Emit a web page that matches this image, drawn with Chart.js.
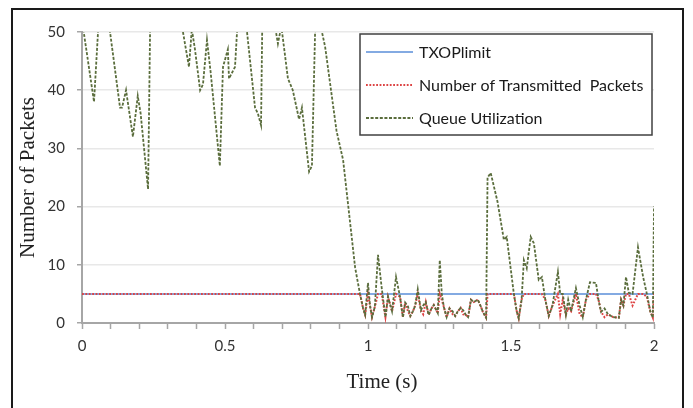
<!DOCTYPE html>
<html><head><meta charset="utf-8">
<script src="https://cdn.jsdelivr.net/npm/chart.js@4/dist/chart.umd.min.js"></script>
<style>
html,body{margin:0;padding:0;background:#fff;width:693px;height:408px;overflow:hidden}
#wrap{position:relative;width:693px;height:408px}
#frame{position:absolute;left:11px;top:8px;width:673px;height:430px;border:2px solid #1a1a1a;box-sizing:border-box}
#c{position:absolute;left:0;top:0}
</style></head>
<body><div id="wrap"><div id="frame"></div><canvas id="c" width="693" height="408"></canvas></div>
<script>
const times = [0, 0.042, 0.056, 0.075, 0.098, 0.133, 0.140, 0.154, 0.178, 0.195,
  0.205, 0.231, 0.238, 0.260, 0.300, 0.330, 0.353, 0.374, 0.384, 0.395,
  0.413, 0.423, 0.437, 0.450, 0.482, 0.493, 0.510, 0.514, 0.535, 0.542,
  0.560, 0.577, 0.605, 0.615, 0.626, 0.630, 0.650, 0.675, 0.685, 0.697,
  0.720, 0.737, 0.759, 0.769, 0.794, 0.804, 0.815, 0.828, 0.839, 0.850,
  0.890, 0.902, 0.913,
  0.955, 0.972, 0.983, 0.990, 1.000, 1.007, 1.014, 1.024, 1.035, 1.048,
  1.061, 1.070, 1.084, 1.098, 1.112, 1.122, 1.130, 1.140, 1.148, 1.157,
  1.165, 1.174, 1.185, 1.193, 1.202, 1.212, 1.222, 1.230, 1.244, 1.251,
  1.258, 1.265, 1.275, 1.285, 1.296, 1.305, 1.314, 1.324, 1.333, 1.342,
  1.350, 1.360, 1.370, 1.384, 1.393, 1.401, 1.413, 1.418, 1.429, 1.453,
  1.475, 1.485, 1.510, 1.520, 1.527, 1.537, 1.545, 1.555, 1.569, 1.580,
  1.597, 1.608, 1.620, 1.632, 1.645, 1.664, 1.672, 1.681, 1.692, 1.700,
  1.710, 1.727, 1.740, 1.751, 1.762, 1.776, 1.797, 1.806, 1.815, 1.827,
  1.839, 1.858, 1.877, 1.885, 1.893, 1.902, 1.912, 1.925, 1.944, 1.962,
  1.975, 1.987, 1.996, 2.000];
const queueUtilization = [52, 38, 50, 56, 50, 37, 37, 40, 32, 39,
  36, 23, 50, 58, 60, 56, 50, 44, 50.5, 47,
  40, 41, 48.6, 43, 27, 44, 47, 42, 44, 50,
  55, 50, 37, 36, 34, 50, 57, 51, 48, 51,
  42, 40, 35, 37, 26, 27, 50, 53, 50, 47.5,
  33, 30.4, 28,
  9.5, 5, 2.5, 1.4, 6.9, 3, 1, 2.8, 11.7, 6,
  1, 4.5, 2, 7.9, 4.5, 1, 3.5, 2.8, 1.2, 2,
  3, 5.8, 2.2, 3, 3.6, 1.4, 2.5, 3.1, 1.7, 10.8,
  5, 2.8, 1, 2.5, 2, 1.2, 2, 2.6, 2.2, 1.4,
  1, 4, 3.6, 4, 3, 2, 0.9, 25, 25.8, 20.8,
  14.3, 14.8, 5, 2, 0.8, 4, 10.8, 9.4, 14.8, 13.7,
  7.4, 7.9, 4, 1.2, 3, 8.8, 5, 5, 1.4, 4,
  2, 6, 3, 1, 4, 7, 6.9, 4, 1.9, 2.5,
  1.5, 1, 0.9, 4, 3, 7.9, 5.2, 5, 13, 7.9,
  5, 2, 0.9, 20];
const transmittedPackets = [5, 5, 5, 5, 5, 5, 5, 5, 5, 5,
  5, 5, 5, 5, 5, 5, 5, 5, 5, 5,
  5, 5, 5, 5, 5, 5, 5, 5, 5, 5,
  5, 5, 5, 5, 5, 5, 5, 5, 5, 5,
  5, 5, 5, 5, 5, 5, 5, 5, 5, 5,
  5, 5, 5,
  5, 5, 2.5, 1.4, 5, 3, 1, 2.8, 5, 5,
  1, 4.5, 2, 5, 4.5, 1, 3.5, 2, 1.2, 2,
  3, 5, 2.2, 1.5, 3.6, 1.4, 2.5, 3.1, 1.7, 5,
  4, 2.8, 1, 2.5, 1.5, 1.2, 2, 2.6, 1.5, 1.4,
  1, 4, 3.6, 4, 3, 2, 0.9, 5, 5, 5,
  5, 5, 5, 2, 0.8, 4, 5, 5, 5, 5,
  5, 5, 4, 1.2, 3, 5, 1.5, 4, 1.4, 2.5,
  2, 5, 1.5, 1, 4, 5, 5, 4, 1.9, 1,
  1.5, 1, 0.9, 4, 3, 5, 5, 3, 5, 5,
  4.5, 2, 0.9, 5];
const txopTimes = [0, 2];
const txopLimit = [5, 5];
const xTickLabels = ['0', '0.5', '1', '1.5', '2'];
const yTicks = [0, 10, 20, 30, 40, 50];

const pts = (xs, ys) => xs.map((x, i) => ({x: x, y: ys[i]}));

const legendBox = {
  id: 'legendBox',
  afterDraw(chart) {
    const ctx = chart.ctx;
    ctx.save();
    ctx.fillStyle = '#fff';
    ctx.fillRect(360, 34, 292, 101);
    ctx.strokeStyle = '#404040';
    ctx.lineWidth = 1.5;
    ctx.setLineDash([]);
    ctx.strokeRect(360, 34, 292, 101);
    chart.data.datasets.forEach((ds, i) => {
      const y = 52 + i * 33;
      ctx.beginPath();
      ctx.setLineDash(ds.borderDash || []);
      ctx.strokeStyle = ds.borderColor;
      ctx.lineWidth = ds.borderWidth;
      ctx.moveTo(366, y); ctx.lineTo(413, y);
      ctx.stroke();
      ctx.setLineDash([]);
      ctx.fillStyle = '#1a1a1a';
      ctx.font = '16px Lato';
      ctx.textBaseline = 'middle';
      ctx.textAlign = 'left';
      ctx.fillText(ds.label, 419, y + 1);
    });
    ctx.font = '21px "Liberation Serif"';
    ctx.fillStyle = '#222';
    ctx.textAlign = 'center';
    ctx.textBaseline = 'middle';
    ctx.fillText('Time (s)', 382, 382);
    ctx.restore();
  }
};

new Chart(document.getElementById('c'), {
  type: 'line',
  data: {
    datasets: [
      {label: 'TXOPlimit', data: pts(txopTimes, txopLimit), borderColor: '#5a8ed8', borderWidth: 1.5, borderDash: [], pointRadius: 0, order: 3},
      {label: 'Number of Transmitted  Packets', data: pts(times, transmittedPackets), borderColor: '#dd4444', borderWidth: 2, borderDash: [1.8, 1.6], pointRadius: 0, order: 2},
      {label: 'Queue Utilization', data: pts(times, queueUtilization), borderColor: '#5a6d3c', borderWidth: 1.8, borderDash: [3, 1.6], pointRadius: 0, order: 1}
    ]
  },
  options: {
    responsive: false,
    animation: false,
    events: [],
    layout: {padding: {left: 0, right: 39, top: 32, bottom: 0}},
    plugins: {legend: {display: false}, tooltip: {enabled: false}},
    elements: {line: {tension: 0}},
    scales: {
      x: {
        type: 'linear', min: 0, max: 2,
        afterFit(s) { s.height = 85; },
        grid: {drawOnChartArea: false, drawTicks: true, tickLength: 6, tickColor: '#a6a6a6', tickWidth: 1.5},
        border: {color: '#a6a6a6', width: 2},
        ticks: {
          stepSize: 0.1, autoSkip: false, maxRotation: 0, padding: 8,
          color: '#333', font: {family: 'Lato', size: 15},
          callback(v) {
            const k = Math.round(v * 2);
            return Math.abs(v * 2 - k) < 1e-6 ? xTickLabels[k] : '';
          }
        }
      },
      y: {
        min: 0, max: 50,
        afterFit(s) { s.width = 82; },
        afterBuildTicks(s) { s.ticks = yTicks.map(v => ({value: v})); },
        grid: {color: '#e8e8e8', lineWidth: 1.5, drawTicks: true, tickLength: 5, tickColor: '#a6a6a6', tickWidth: 1.5},
        border: {color: '#a6a6a6', width: 2},
        ticks: {padding: 12, color: '#333', font: {family: 'Lato', size: 15}},
        title: {display: true, text: 'Number of Packets', font: {family: 'Liberation Serif', size: 21}, color: '#222', padding: {top: 16, bottom: 0}}
      }
    }
  },
  plugins: [legendBox]
});
</script></body></html>
